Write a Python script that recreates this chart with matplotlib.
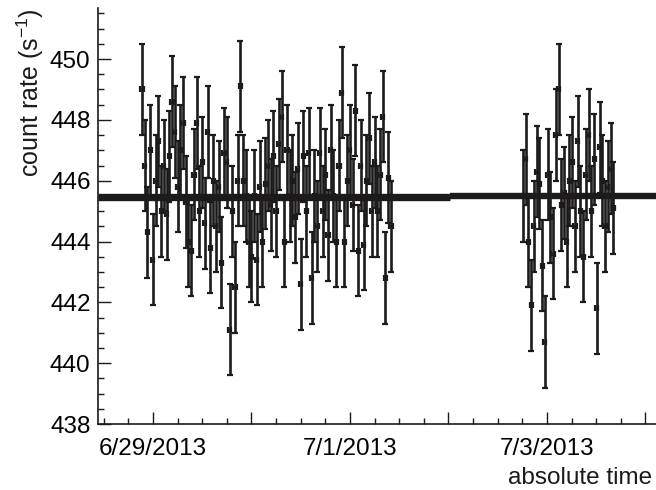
import numpy as np
import pandas as pd
import matplotlib
matplotlib.use('Agg')
import matplotlib.pyplot as plt
import matplotlib.dates as mdates
from matplotlib.ticker import MultipleLocator, FuncFormatter

plt.rcParams['font.family'] = ['Liberation Sans', 'DejaVu Sans']
plt.rcParams['mathtext.fontset'] = 'custom'
plt.rcParams['mathtext.rm'] = 'Liberation Sans'

# 40 min bins, two measurement runs
run1_start = '2013-06-28 21:20'
run2_start = '2013-07-02 18:10'
bin_width = '40min'

rate_run1 = [
    449.0, 446.5, 444.3, 447.0, 443.4, 446.0, 447.3, 445.0, 446.5, 444.9,
    446.8, 448.6, 447.6, 445.8, 447.0, 447.9, 445.3, 444.0, 443.7, 446.2,
    447.9, 445.0, 446.6, 444.6, 447.6, 443.8, 446.0, 444.5, 445.8, 443.3,
    446.9, 446.6, 441.1, 445.0, 442.5, 446.0, 449.1, 446.0, 445.5, 444.0,
    443.5, 445.5, 443.4, 445.8, 444.0, 445.9, 446.5, 445.2, 446.8, 445.0,
    447.2, 448.1, 444.0, 447.0, 445.5, 446.0, 444.8, 446.4, 442.6, 446.8,
    445.0, 446.9, 442.8, 445.5, 444.5, 446.9, 445.0, 446.2, 444.2, 447.0,
    445.5, 444.0, 446.5, 448.9, 444.0, 446.0, 447.0, 445.2, 448.3, 443.7,
    446.5, 443.9, 446.0, 447.4, 445.0, 446.6, 445.0, 446.2, 448.1, 442.8,
    446.1, 444.5,
]
rate_run2 = [
    445.5, 446.7, 444.0, 441.9, 444.5, 446.3, 445.9, 443.2, 440.7, 446.2,
    444.8, 443.6, 447.5, 449.0, 445.2, 445.6, 444.0, 446.0, 446.6, 444.5,
    447.3, 445.0, 443.5, 446.2, 447.5, 445.0, 446.7, 441.8, 447.1, 446.0,
    444.5, 445.8, 446.4, 445.1,
]
rate_err = 1.5
fit_run1 = 445.47
fit_run2 = 445.49

t1 = pd.date_range(run1_start, periods=len(rate_run1), freq=bin_width)
t2 = pd.date_range(run2_start, periods=len(rate_run2), freq=bin_width)
x1 = mdates.date2num(t1.to_pydatetime())
x2 = mdates.date2num(t2.to_pydatetime())

ink = '#1c1a1a'

fig = plt.figure(figsize=(6.56, 4.90), dpi=100)
ax = fig.add_axes([97.5 / 656, 1 - 424 / 490, 1 - 97.5 / 656, 416 / 490])

xmin = mdates.date2num(pd.Timestamp('2013-06-28 10:30').to_pydatetime())
xmax = mdates.date2num(pd.Timestamp('2013-07-04 02:35').to_pydatetime())
xsplit = mdates.date2num(pd.Timestamp('2013-07-02 00:20').to_pydatetime())

ax.hlines(fit_run1, xmin, xsplit, color=ink, lw=5.3, zorder=3)
ax.hlines(fit_run2, xsplit, xmax, color=ink, lw=4.6, zorder=3)

for xx, yy in ((x1, rate_run1), (x2, rate_run2)):
    ax.errorbar(xx, yy, yerr=rate_err, xerr=0.016, fmt='none', ecolor=ink,
                elinewidth=1.9, capsize=2.2, capthick=1.6, zorder=2)

ax.set_xlim(xmin, xmax)
ax.set_ylim(438, 451.68)

ax.yaxis.set_major_locator(MultipleLocator(2))
ax.yaxis.set_minor_locator(MultipleLocator(0.5))
ax.yaxis.set_major_formatter(FuncFormatter(lambda v, p: f'{v:.0f}'))

day0 = pd.Timestamp('2013-06-29')


def date_label(v, pos):
    d = pd.Timestamp(mdates.num2date(v).replace(tzinfo=None)).normalize()
    if (d - day0).days % 2:
        return ''
    return f'{d.month}/{d.day}/{d.year}'


ax.xaxis.set_major_locator(mdates.DayLocator())
ax.xaxis.set_minor_locator(mdates.HourLocator(byhour=[6, 12, 18]))
ax.xaxis.set_major_formatter(FuncFormatter(date_label))

ax.tick_params(axis='both', which='both', direction='in', color=ink, width=1.0)
ax.tick_params(axis='y', which='major', length=9, pad=5, labelsize=17.5)
ax.tick_params(axis='y', which='minor', length=4.5)
ax.tick_params(axis='x', which='major', length=9, pad=10, labelsize=17.5)
ax.tick_params(axis='x', which='minor', length=4.5)

for side in ('top', 'right'):
    ax.spines[side].set_visible(False)
for side in ('left', 'bottom'):
    ax.spines[side].set_color(ink)
    ax.spines[side].set_linewidth(1.2)

fig.text(30 / 656, 1 - 8 / 490, r'count rate (s$^{\mathrm{-1}}$)', rotation=90,
         ha='center', va='top', fontsize=18, color=ink)
fig.text(652 / 656, 1 - 484 / 490, 'absolute time', ha='right', va='baseline',
         fontsize=17.5, color=ink)

fig.savefig('out.png', dpi=100)
